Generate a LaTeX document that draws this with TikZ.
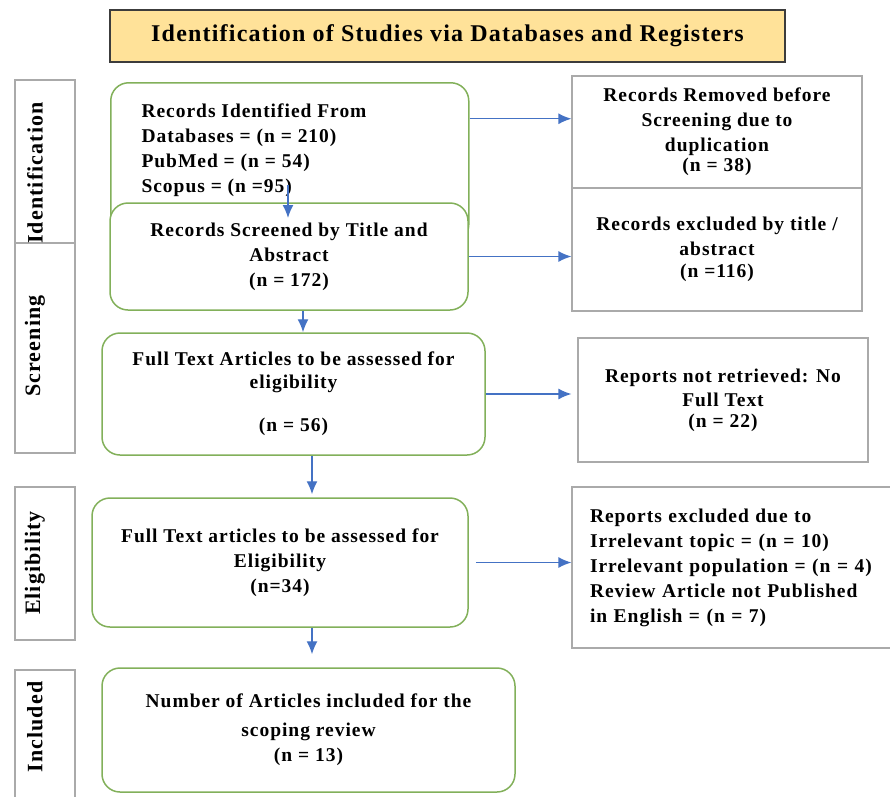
\documentclass[tikz,border=0pt]{standalone}
\usepackage{fontspec}
\setmainfont{Liberation Serif}[LetterSpace=5]
\usetikzlibrary{arrows.meta}
\definecolor{boxgreen}{RGB}{130,176,90}
\definecolor{boxgray}{RGB}{170,170,170}
\definecolor{arrblue}{RGB}{68,114,196}
\definecolor{titlefill}{RGB}{255,226,153}
\definecolor{titleline}{RGB}{60,60,60}
\newcommand{\bxfont}{\fontsize{19.5}{25}\selectfont\bfseries}
\begin{document}
\begin{tikzpicture}[x=1pt, y=-1pt,
    header/.style={rectangle, draw=titleline, line width=1.5pt, fill=titlefill, minimum width=675pt, minimum height=52pt, font=\fontsize{24}{28}\selectfont\bfseries},
    phase/.style={rectangle, draw=boxgray, line width=1.2pt, minimum width=60pt},
    phaselbl/.style={rotate=90, inner sep=0pt, font=\fontsize{22}{26}\selectfont\bfseries},
    stage/.style={rectangle, draw=boxgreen, line width=1.5pt, rounded corners=18pt, fill=white, align=center, inner sep=0pt, font=\bxfont},
    excl/.style={rectangle, draw=boxgray, line width=1.2pt, fill=white, minimum width=290pt, align=center, inner sep=0pt, font=\bxfont},
    flow/.style={-{Latex[length=13pt,width=11pt]}, line width=1.4pt, draw=arrblue}]
    \useasboundingbox (0,0) rectangle (890,796);
    \node [header] (title) at (447.5,36) {Identification of Studies via Databases and Registers};

    \node [phase, minimum height=163pt] (ident) at (45,161.5) {};
    \node [phase, minimum height=210pt] (screen) at (45,348) {};
    \node [phase, minimum height=153pt] (elig) at (45,563.5) {};
    \node [phase, minimum height=140pt] (incl) at (45,740) {};
    \node [phaselbl] (identlbl) at (35,173) {Identification};
    \node [phaselbl] (screenlbl) at (35,346) {Screening};
    \node [phaselbl] (eliglbl) at (35,563) {Eligibility};
    \node [phaselbl] (incllbl) at (35,727) {Included};

    \node [stage, anchor=north west, minimum width=358pt, minimum height=160pt] (found) at (110,82) {};
    \node [align=left, font=\bxfont, anchor=west] (foundtxt) at (138,150) {Records Identified From\\ Databases = (n = 210)\\ PubMed = (n = 54)\\ Scopus = (n =95)};
    \node [stage, minimum width=358pt, minimum height=107pt] (screened) at (289,256.5) {Records Screened by Title and\\ Abstract\\ (n = 172)};
    \node [stage, minimum width=383pt, minimum height=122pt] (fulltext) at (293.5,394) {Full Text Articles to be assessed for\\[-2pt] eligibility\\[18pt] (n = 56)};
    \node [stage, minimum width=376pt, minimum height=129pt] (assessed) at (280,562.5) {Full Text articles to be assessed for\\ Eligibility\\ (n=34)};
    \node [stage, minimum width=413pt, minimum height=124pt] (included) at (308.5,730) {Number of Articles included for the\\[4pt] scoping review\\ (n = 13)};

    \node [excl, minimum height=112pt] (dupl) at (717,132) {Records Removed before\\ Screening due to\\ duplication\\[-5pt] (n = 38)};
    \node [excl, minimum height=123pt] (titleexcl) at (717,249.5) {Records excluded by title /\\ abstract\\[-3pt] (n =116)};
    \node [excl, minimum height=124pt] (noretr) at (723,400) {Reports not retrieved: No\\[-1pt] Full Text\\[-4pt] (n = 22)};
    \node [excl, minimum height=161pt, text width=300pt, inner xsep=18pt, align=left] (rptexcl) at (740,567.5) {Reports excluded due to\\ Irrelevant topic = (n = 10)\\ Irrelevant population = (n = 4)\\ Review Article not Published\\ in English = (n = 7)};

    \coordinate (dropA) at (288,185);
    \coordinate (dropB) at (288,218);
    \coordinate (dupA) at ([yshift=44pt]found.east);
    \coordinate (downA) at ([xshift=14pt]screened.south);
    \coordinate (downB) at ([xshift=18.5pt]fulltext.south);
    \coordinate (downC) at ([xshift=32pt]assessed.south);

    \draw [flow] (dropA) -- (dropB);
    \draw [flow] (downA) -- (downA |- fulltext.north);
    \draw [flow, shorten >=3pt] (downB) -- (downB |- assessed.north);
    \draw [flow, shorten >=13pt] (downC) -- (downC |- included.north);
    \draw [flow] (dupA) -- (dupA -| dupl.west);
    \draw [flow] (screened.east) -- (screened.east -| titleexcl.west);
    \draw [flow, shorten >=6pt] (fulltext.east) -- (fulltext.east -| noretr.west);
    \draw [flow, shorten <=7pt] (assessed.east) -- (assessed.east -| rptexcl.west);
\end{tikzpicture}
\end{document}
